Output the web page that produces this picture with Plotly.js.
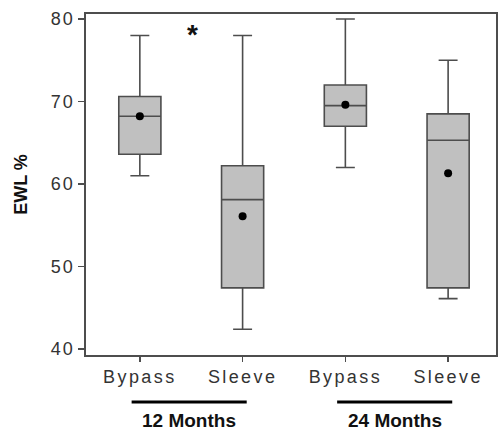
<!DOCTYPE html>
<html>
<head>
<meta charset="utf-8">
<script src="https://cdn.plot.ly/plotly-3.0.1.min.js"></script>
<style>
html,body{margin:0;padding:0;background:#fff;}
#chart{width:498px;height:431px;}
.xtick text{letter-spacing:2.4px;}
.ytick text{letter-spacing:2px;}
</style>
</head>
<body>
<div id="chart"></div>
<script>
// Data
var categories = ["Bypass", "Sleeve", "Bypass", "Sleeve"];
var positions = [0, 1, 2, 3];
var lowerWhisker = [61.0, 42.4, 62.0, 46.1];
var q1Values = [63.6, 47.4, 67.0, 47.4];
var medianValues = [68.2, 58.1, 69.5, 65.3];
var q3Values = [70.6, 62.2, 72.0, 68.5];
var upperWhisker = [78.0, 78.0, 80.0, 75.0];
var meanValues = [68.2, 56.1, 69.6, 61.3];
var groupLabels = ["12 Months", "24 Months"];
var groupSpans = [[-0.08, 1.04], [1.92, 3.04]];
var yTicks = [40, 50, 60, 70, 80];

var lineColor = "#4d4d4d";

var boxTrace = {
  type: "box",
  x: positions,
  q1: q1Values,
  median: medianValues,
  q3: q3Values,
  lowerfence: lowerWhisker,
  upperfence: upperWhisker,
  width: 0.41,
  whiskerwidth: 0.45,
  fillcolor: "#c0c0c0",
  line: {color: lineColor, width: 1.6},
  boxpoints: false,
  hoverinfo: "skip",
  showlegend: false
};

var meanTrace = {
  type: "scatter",
  mode: "markers",
  x: positions,
  y: meanValues,
  marker: {color: "#000", size: 8},
  hoverinfo: "skip",
  showlegend: false
};

var shapes = groupSpans.map(function (s) {
  return {type: "line", xref: "x", yref: "paper", x0: s[0], x1: s[1], y0: -0.138, y1: -0.138,
          line: {color: "#000", width: 3}};
});

var annotations = groupLabels.map(function (g, i) {
  return {xref: "x", yref: "paper", x: (groupSpans[i][0] + groupSpans[i][1]) / 2, y: -0.192,
          text: "<b>" + g + "</b>", showarrow: false, xanchor: "center", yanchor: "middle",
          font: {family: "Arial, Liberation Sans, sans-serif", size: 19, color: "#111"}};
});
annotations.push({xref: "x", yref: "y", x: 0.515, y: 78.1, text: "<b>*</b>", showarrow: false,
  xanchor: "center", yanchor: "middle",
  font: {family: "Arial, Liberation Sans, sans-serif", size: 28, color: "#111"}});

var layout = {
  width: 498, height: 431,
  margin: {l: 86, r: 2, t: 14, b: 76},
  paper_bgcolor: "#fff", plot_bgcolor: "#fff",
  font: {family: "Arial, Liberation Sans, sans-serif", color: "#333"},
  xaxis: {
    range: [-0.524, 3.466], tickvals: positions, ticktext: categories,
    showgrid: false, zeroline: false, showline: true, mirror: true,
    linecolor: lineColor, linewidth: 1.6,
    ticks: "outside", ticklen: 5, tickwidth: 1.5, tickcolor: lineColor,
    tickfont: {size: 18, color: "#333"}
  },
  yaxis: {
    range: [39.27, 80.6], tickvals: yTicks,
    showgrid: false, zeroline: false, showline: true, mirror: true,
    linecolor: lineColor, linewidth: 1.6,
    ticks: "outside", ticklen: 6, tickwidth: 1.5, tickcolor: lineColor,
    tickfont: {size: 18, color: "#333"},
    title: {text: "<b>EWL %</b>", standoff: 18, font: {size: 18, color: "#111"}}
  },
  shapes: shapes,
  annotations: annotations
};

Plotly.newPlot("chart", [boxTrace, meanTrace], layout, {displayModeBar: false, staticPlot: true});
</script>
</body>
</html>
